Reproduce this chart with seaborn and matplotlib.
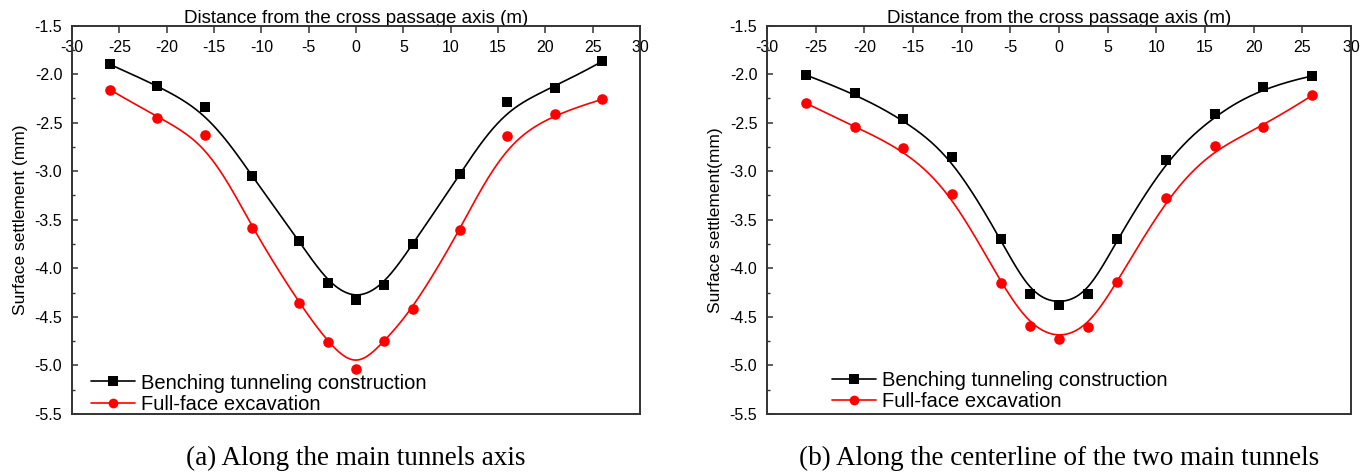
import numpy as np
import pandas as pd
import matplotlib
matplotlib.use("Agg")
import matplotlib.pyplot as plt
import seaborn as sns
from matplotlib.lines import Line2D
from matplotlib.ticker import MultipleLocator

# ---------------- data ----------------
distance = [-26, -21, -16, -11, -6, -3, 0, 3, 6, 11, 16, 21, 26]
a_bench = [-1.90, -2.12, -2.34, -3.05, -3.72, -4.15, -4.33, -4.17, -3.75, -3.03, -2.29, -2.14, -1.87]
a_full = [-2.16, -2.45, -2.63, -3.59, -4.36, -4.76, -5.04, -4.75, -4.42, -3.61, -2.64, -2.41, -2.26]
b_bench = [-2.01, -2.20, -2.46, -2.85, -3.70, -4.26, -4.38, -4.26, -3.70, -2.88, -2.41, -2.13, -2.02]
b_full = [-2.30, -2.54, -2.76, -3.23, -4.15, -4.59, -4.73, -4.60, -4.14, -3.28, -2.74, -2.54, -2.22]

series_names = ["Benching tunneling construction", "Full-face excavation"]
x_label = "Distance from the cross passage axis (m)"
y_labels = ["Surface settlement (mm)", "Surface settlement(mm)"]
captions = ["(a) Along the main tunnels axis", "(b) Along the centerline of the two main tunnels"]
x_ticks = [-30, -25, -20, -15, -10, -5, 0, 5, 10, 15, 20, 25, 30]
y_ticks = [-5.5, -5.0, -4.5, -4.0, -3.5, -3.0, -2.5, -2.0, -1.5]


def bspline(xs, ys, n=400, k=3):
    """Clamped uniform cubic B-spline using the data points as control points."""
    P = np.column_stack([xs, ys]).astype(float)
    m = len(P)
    knots = np.concatenate([np.zeros(k), np.arange(m - k + 1), np.full(k, m - k)]).astype(float)
    t = np.linspace(0, m - k, n)
    nb = len(knots) - 1
    N = np.zeros((n, nb))
    for i in range(nb):
        N[:, i] = ((knots[i] <= t) & (t < knots[i + 1])).astype(float)
    last = max(i for i in range(nb) if knots[i + 1] > knots[i])
    N[-1, :] = 0
    N[-1, last] = 1.0
    for d in range(1, k + 1):
        Nn = np.zeros((n, nb - d))
        for i in range(nb - d):
            den1 = knots[i + d] - knots[i]
            den2 = knots[i + d + 1] - knots[i + 1]
            a = (t - knots[i]) / den1 * N[:, i] if den1 > 0 else 0
            b = (knots[i + d + 1] - t) / den2 * N[:, i + 1] if den2 > 0 else 0
            Nn[:, i] = a + b
        N = Nn
    C = N @ P
    return C[:, 0], C[:, 1]


sns.set_style("white")
plt.rcParams["font.family"] = ["Liberation Sans", "DejaVu Sans"]
plt.rcParams["axes.unicode_minus"] = False
plt.rcParams["text.color"] = "black"
plt.rcParams["axes.labelcolor"] = "black"

fig = plt.figure(figsize=(13.71, 4.75), dpi=100)
W, H = 1371, 475
ax_px = [(72, 640), (767, 1351)]
top_px, bot_px = 25.5, 414
axes = []
for (l, r) in ax_px:
    axes.append(fig.add_axes([l / W, 1 - bot_px / H, (r - l) / W, (bot_px - top_px) / H]))

colors = ["#000000", "#ff0000"]
markers = ["s", "o"]
marker_sizes = [62, 58]
panels = [(a_bench, a_full), (b_bench, b_full)]
legend_anchor = [(0.030, -0.005), (0.108, 0.002)]

for idx, ax in enumerate(axes):
    for s, vals in enumerate(panels[idx]):
        cx, cy = bspline(distance, vals)
        df_curve = pd.DataFrame({"x": cx, "y": cy})
        sns.lineplot(data=df_curve, x="x", y="y", ax=ax, color=colors[s], linewidth=1.2,
                     sort=False, estimator=None)
        df_pts = pd.DataFrame({"x": distance, "y": vals})
        sns.scatterplot(data=df_pts, x="x", y="y", ax=ax, color=colors[s], marker=markers[s],
                        s=marker_sizes[s], linewidth=0, zorder=3)

    ax.set_xlim(-30, 30)
    ax.set_ylim(-5.5, -1.5)
    ax.set_xticks(x_ticks)
    ax.set_yticks(y_ticks)
    ax.yaxis.set_minor_locator(MultipleLocator(0.25))
    ax.xaxis.tick_top()
    ax.xaxis.set_label_position("top")
    ax.tick_params(axis="x", which="major", direction="in", length=5, width=1.1,
                   pad=-21, labelsize=11.5, colors="#333333", labelcolor="black",
                   top=True, bottom=False, labeltop=True, labelbottom=False)
    ax.tick_params(axis="y", which="major", direction="in", length=4, width=1.1,
                   pad=7, labelsize=11.5, colors="#333333", labelcolor="black",
                   left=True, right=False)
    ax.tick_params(axis="y", which="minor", direction="in", length=2.5, width=1.0,
                   colors="#333333", left=True, right=False)
    ax.set_xticklabels([str(v) for v in x_ticks])
    ax.set_yticklabels([f"{v:.1f}" for v in y_ticks])
    ax.set_xlabel(x_label, fontsize=13.5, labelpad=1.5, color="black")
    ax.set_ylabel(y_labels[idx], fontsize=12.5, labelpad=5, color="black")
    for sp in ax.spines.values():
        sp.set_visible(True)
        sp.set_color("#333333")
        sp.set_linewidth(1.4)

    handles = [Line2D([], [], color=colors[s], marker=markers[s], markersize=7,
                      linewidth=1.2, markeredgewidth=0) for s in range(2)]
    leg = ax.legend(handles, series_names, loc="lower left", bbox_to_anchor=legend_anchor[idx],
                    frameon=False, fontsize=14.5, handlelength=2.2, handletextpad=0.3,
                    labelspacing=0.12, borderpad=0.1, borderaxespad=0.0)
    for txt in leg.get_texts():
        txt.set_color("black")

    l, r = ax_px[idx]
    fig.text(((l + r) / 2) / W, 1 - 458 / H, captions[idx], ha="center", va="center",
             fontsize=19.5, color="black", family=["Liberation Serif", "DejaVu Serif"])

fig.savefig("out.png", dpi=100)
